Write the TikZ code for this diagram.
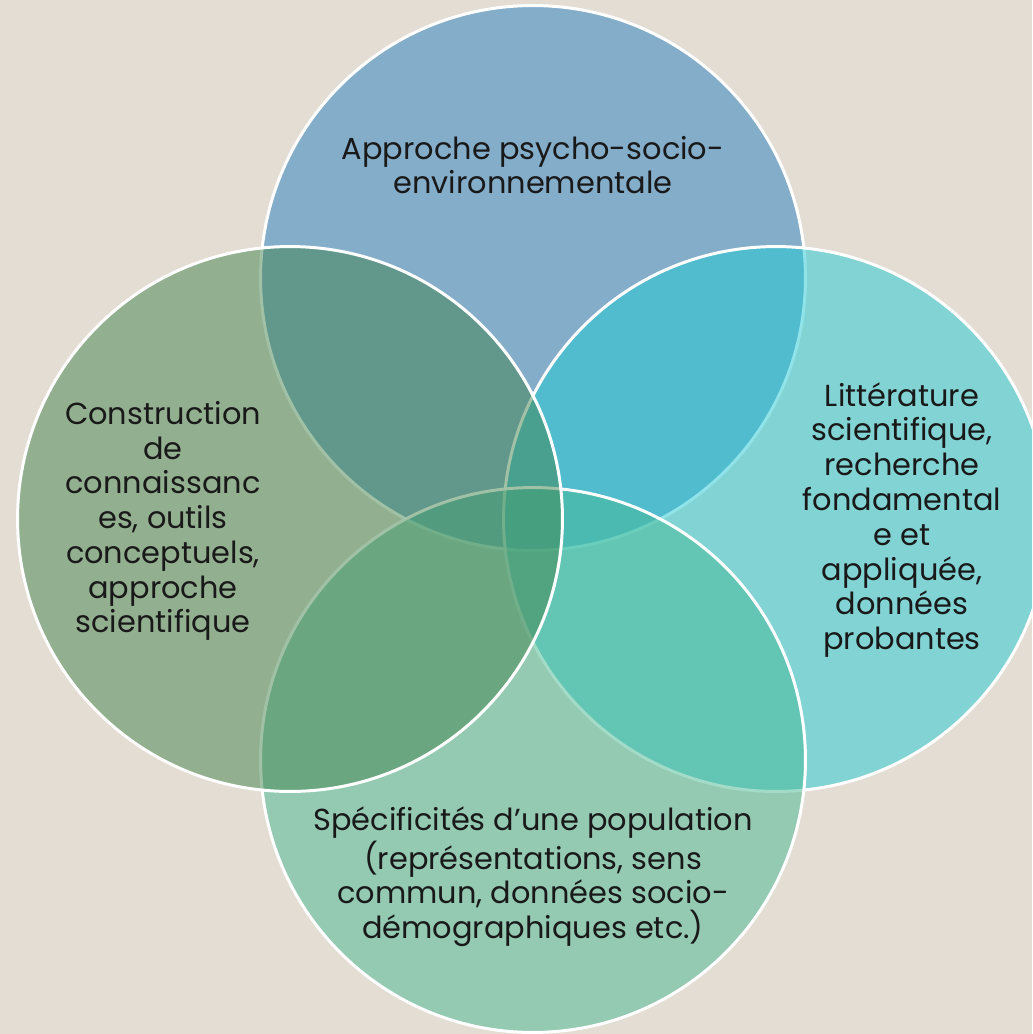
\documentclass[tikz,border=0pt]{standalone}
\usepackage{fontspec}
\setmainfont{Poppins}
\definecolor{bgc}{RGB}{228,221,211}
\definecolor{ctop}{RGB}{38,127,195}
\definecolor{cright}{RGB}{34,203,213}
\definecolor{cbottom}{RGB}{70,185,147}
\definecolor{cleft}{RGB}{66,133,79}
\begin{document}
\begin{tikzpicture}[x=0.02cm,y=-0.02cm,
  ring/.style={circle, minimum size=10.9cm, inner sep=0pt, draw=white, line width=1.7pt, fill opacity=0.5, draw opacity=1},
  label/.style={align=center, text=black!90, font=\fontsize{17.3}{19.8}\selectfont, inner sep=0pt}]
\useasboundingbox (0,0) rectangle (1032,1034);
\fill[bgc] (0,0) rectangle (1032,1034);
\begin{scope}
\clip (0,0) rectangle (1032,1034);
\node[ring, fill=ctop] (ctop) at (533,278) {};
\node[ring, fill=cright] (cright) at (776,519) {};
\node[ring, fill=cbottom] (cbottom) at (533,760) {};
\node[ring, fill=cleft] (cleft) at (290,519) {};
\end{scope}
\node[label] (ttop) at (533,165) {Approche psycho-socio-\\environnementale};
\node[label] (tleft) at (163,521) {Construction\\de\\connaissanc\\es, outils\\conceptuels,\\approche\\scientifique};
\node[label] (tright) at (902,520) {Littérature\\scientifique,\\recherche\\fondamental\\e et\\appliquée,\\données\\probantes};
\node[label] (tbottom) at (533,877) {Spécificités d’une population\\(représentations, sens\\commun, données socio-\\démographiques etc.)};
\end{tikzpicture}
\end{document}
